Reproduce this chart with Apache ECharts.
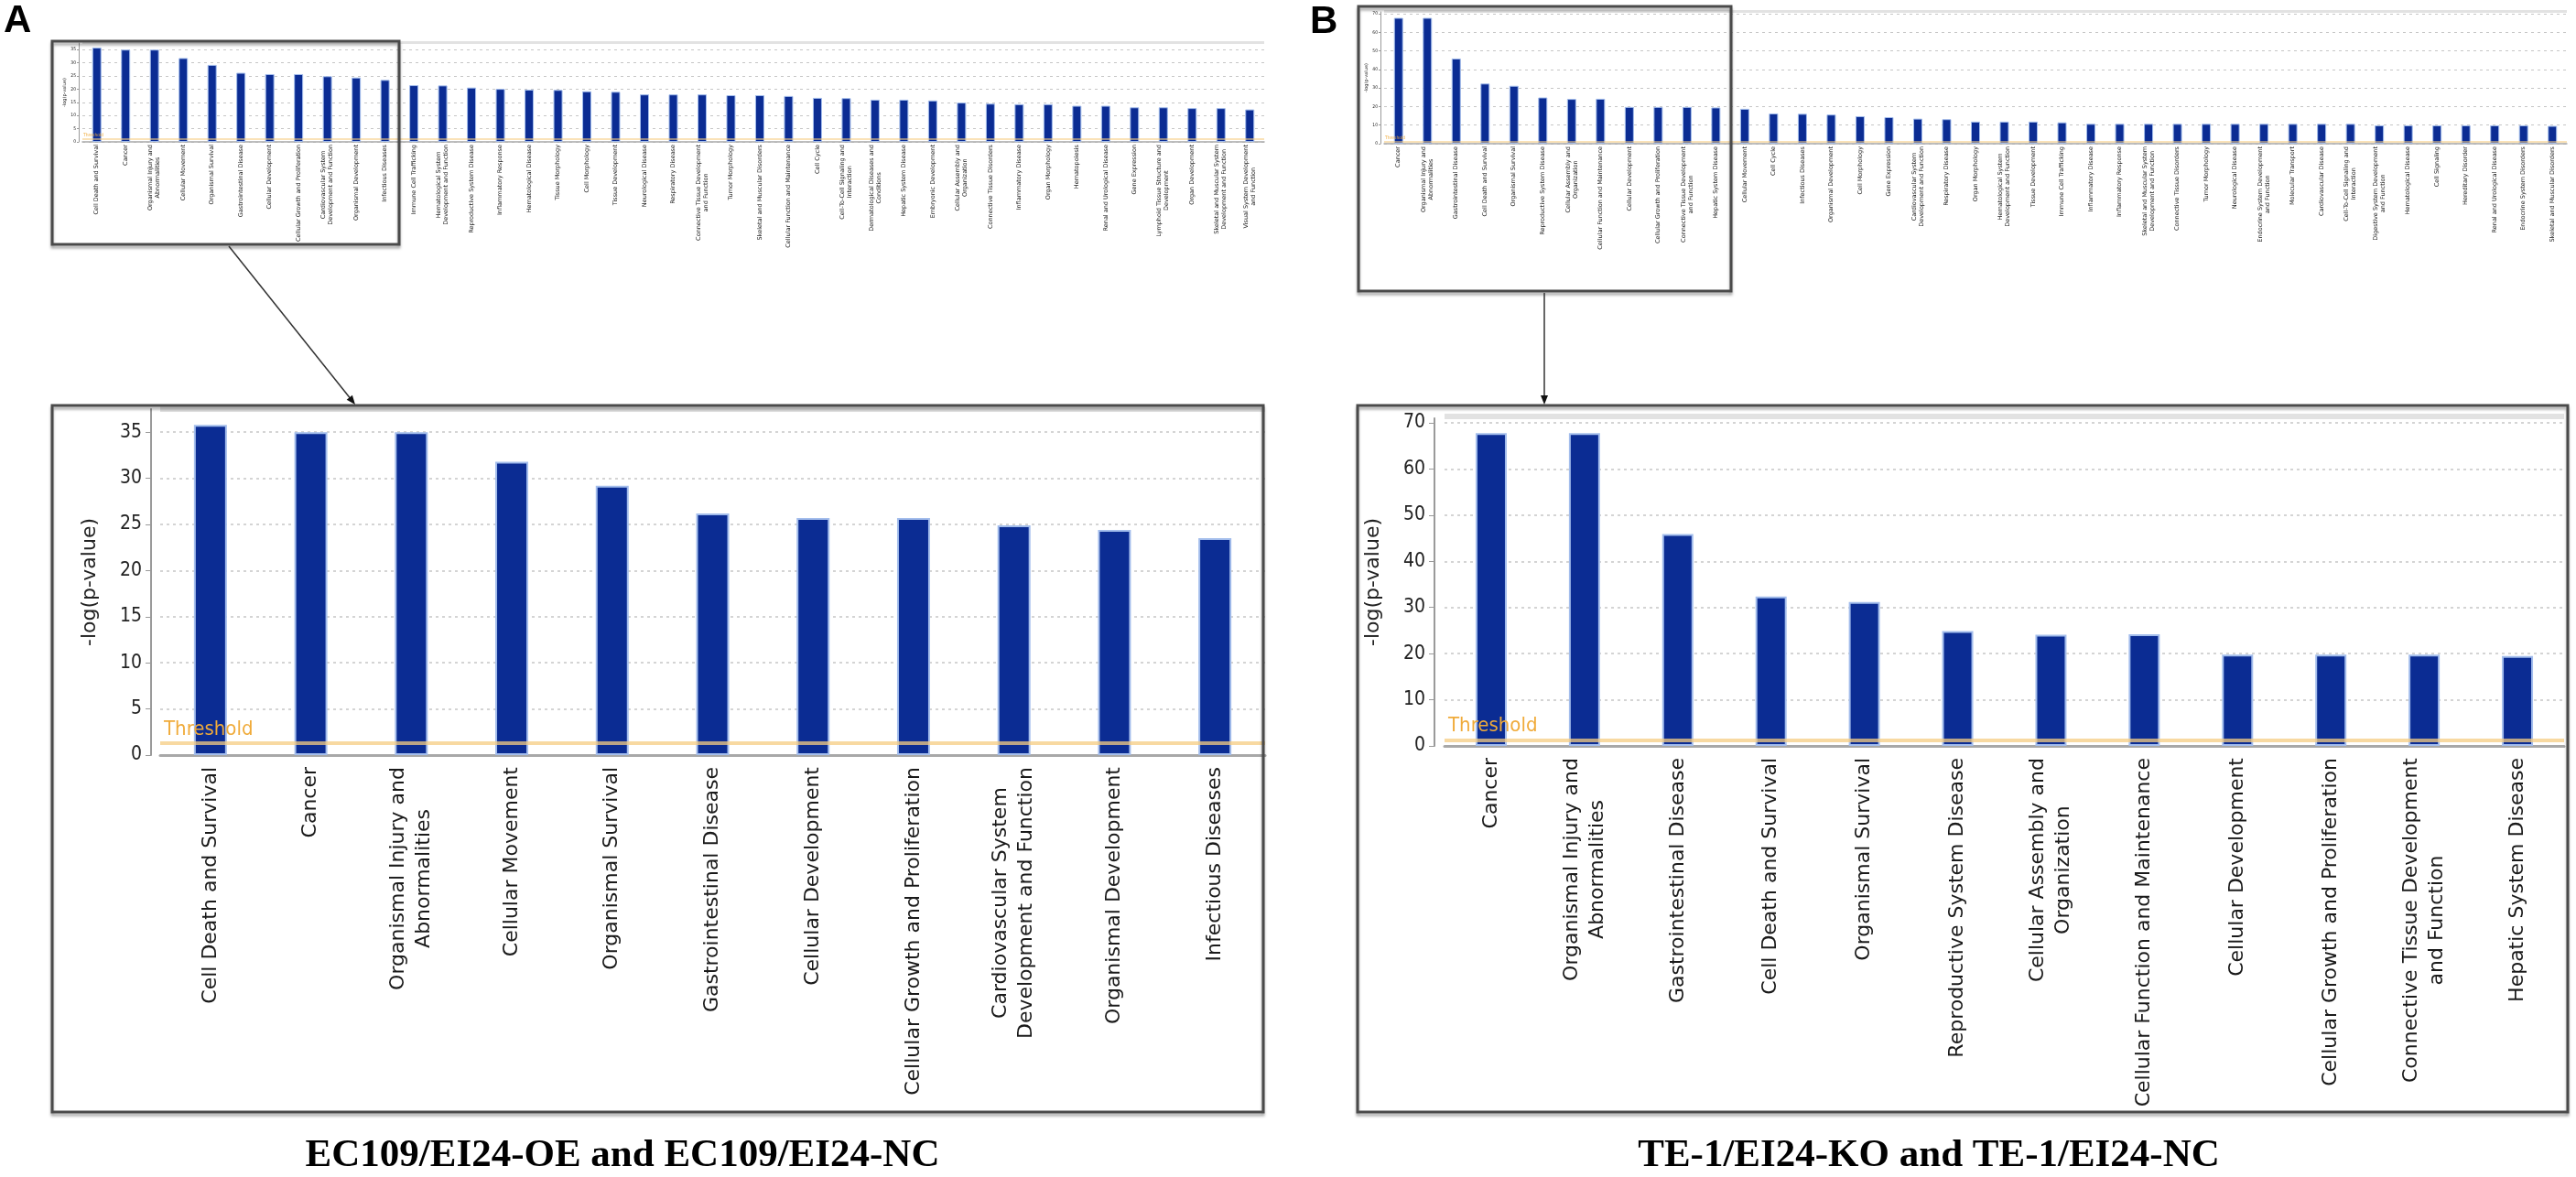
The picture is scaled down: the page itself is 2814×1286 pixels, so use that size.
<!DOCTYPE html>
<html>
<head>
<meta charset="utf-8">
<script src="https://cdn.jsdelivr.net/npm/echarts@6/dist/echarts.min.js"></script>
<style>
html, body { margin: 0; padding: 0; background: #fff; }
#chart { width: 2814px; height: 1286px; }
</style>
</head>
<body>
<div id="chart"></div>
<script>
// panel A: EC109/EI24-OE vs EC109/EI24-NC, first 11 categories are the zoomed chart
var catsA = ['Cell Death and Survival', 'Cancer', 'Organismal Injury and\nAbnormalities', 'Cellular Movement',
    'Organismal Survival', 'Gastrointestinal Disease', 'Cellular Development', 'Cellular Growth and Proliferation',
    'Cardiovascular System\nDevelopment and Function', 'Organismal Development', 'Infectious Diseases'];
var valsA = [35.8, 35.0, 35.0, 31.8, 29.2, 26.2, 25.7, 25.7, 24.9, 24.4, 23.5];
var moreCatsA = ['Immune Cell Trafficking', 'Hematological System\nDevelopment and Function', 'Reproductive System Disease',
    'Inflammatory Response', 'Hematological Disease', 'Tissue Morphology', 'Cell Morphology', 'Tissue Development',
    'Neurological Disease', 'Respiratory Disease', 'Connective Tissue Development\nand Function', 'Tumor Morphology',
    'Skeletal and Muscular Disorders', 'Cellular Function and Maintenance', 'Cell Cycle',
    'Cell-To-Cell Signaling and\nInteraction', 'Dermatological Diseases and\nConditions', 'Hepatic System Disease',
    'Embryonic Development', 'Cellular Assembly and\nOrganization', 'Connective Tissue Disorders', 'Inflammatory Disease',
    'Organ Morphology', 'Hematopoiesis', 'Renal and Urological Disease', 'Gene Expression',
    'Lymphoid Tissue Structure and\nDevelopment', 'Organ Development', 'Skeletal and Muscular System\nDevelopment and Function',
    'Visual System Development\nand Function'];
var moreValsA = [21.5, 21.4, 20.6, 20.1, 19.8, 19.7, 19.2, 19.0, 18.0, 18.0, 18.0, 17.7, 17.7, 17.4, 16.7,
    16.6, 16.0, 16.0, 15.7, 14.9, 14.5, 14.3, 14.3, 13.7, 13.7, 13.1, 13.1, 12.8, 12.8, 12.3];

// panel B: TE-1/EI24-KO vs TE-1/EI24-NC, first 12 categories are the zoomed chart
var catsB = ['Cancer', 'Organismal Injury and\nAbnormalities', 'Gastrointestinal Disease', 'Cell Death and Survival',
    'Organismal Survival', 'Reproductive System Disease', 'Cellular Assembly and\nOrganization',
    'Cellular Function and Maintenance', 'Cellular Development', 'Cellular Growth and Proliferation',
    'Connective Tissue Development\nand Function', 'Hepatic System Disease'];
var valsB = [67.8, 67.8, 45.9, 32.4, 31.2, 24.9, 24.1, 24.2, 19.8, 19.8, 19.8, 19.5];
var moreCatsB = ['Cellular Movement', 'Cell Cycle', 'Infectious Diseases', 'Organismal Development', 'Cell Morphology',
    'Gene Expression', 'Cardiovascular System\nDevelopment and Function', 'Respiratory Disease', 'Organ Morphology',
    'Hematological System\nDevelopment and Function', 'Tissue Development', 'Immune Cell Trafficking',
    'Inflammatory Disease', 'Inflammatory Response', 'Skeletal and Muscular System\nDevelopment and Function',
    'Connective Tissue Disorders', 'Tumor Morphology', 'Neurological Disease',
    'Endocrine System Development\nand Function', 'Molecular Transport', 'Cardiovascular Disease',
    'Cell-To-Cell Signaling and\nInteraction', 'Digestive System Development\nand Function', 'Hematological Disease',
    'Cell Signaling', 'Hereditary Disorder', 'Renal and Urological Disease', 'Endocrine System Disorders',
    'Skeletal and Muscular Disorders'];
var moreValsB = [18.8, 16.3, 16.1, 15.7, 14.8, 14.3, 13.5, 13.2, 11.9, 11.9, 11.9, 11.5, 10.7, 10.7, 10.7,
    10.7, 10.7, 10.7, 10.7, 10.7, 10.7, 10.7, 9.9, 9.9, 9.9, 9.9, 9.9, 9.9, 9.6];

var threshold = 1.3;   // -log(0.05)
var yMaxA = 37.5, stepA = 5;
var yMaxB = 71, stepB = 10;
var captionA = 'EC109/EI24-OE and EC109/EI24-NC';
var captionB = 'TE-1/EI24-KO and TE-1/EI24-NC';

var chart = echarts.init(document.getElementById('chart'));
var BAR = '#0b2c93', CAP = '#a3bdec', FONT = 'DejaVu Sans', NARROW = 'DejaVu Sans Condensed';

function richLines(v) {
    return v.split('\n').map(function (s) { return '{c|' + s + '}'; }).join('\n');
}

function xAxisOf(gi, cats, big) {
    var fs = big ? 22 : 6.5;
    return {
        gridIndex: gi, type: 'category', data: cats,
        axisLine: { lineStyle: { color: '#a8a8a8', width: big ? 3 : 1.5 } },
        axisTick: { show: false },
        axisLabel: {
            interval: 0, rotate: 90, margin: big ? 13 : 3, fontSize: fs, formatter: richLines,
            rich: { c: { align: 'center', fontSize: fs, lineHeight: big ? 28 : 8, fontFamily: FONT, color: '#1a1a1a' } }
        }
    };
}

function yAxisOf(gi, max, step, big, offset) {
    return {
        gridIndex: gi, type: 'value', min: 0, max: max, interval: step, offset: offset,
        name: '-log(p-value)', nameLocation: 'middle', nameRotate: 90, nameGap: big ? 56 : 11,
        nameTextStyle: { fontSize: big ? 22 : 5, fontFamily: FONT, color: '#222' },
        axisLine: { show: true, lineStyle: { color: '#9a9a9a', width: big ? 2 : 1 } },
        axisTick: { show: true, length: big ? 6 : 2, lineStyle: { color: '#9a9a9a' } },
        axisLabel: { showMaxLabel: false, fontSize: big ? 21 : 5, margin: big ? 10 : 3, fontFamily: NARROW, color: '#222' },
        splitLine: { show: true, lineStyle: { color: '#c6c6c6', type: [3, 4], width: big ? 1.5 : 1 } }
    };
}

function barsOf(i, vals, big, width) {
    return {
        type: 'bar', xAxisIndex: i, yAxisIndex: i, data: vals, barWidth: width,
        itemStyle: { color: BAR, borderColor: CAP, borderWidth: big ? 2 : 1 },
        markLine: {
            silent: true, symbol: 'none', animation: false,
            data: [{ yAxis: threshold }],
            lineStyle: { color: 'rgba(246,204,130,0.75)', width: big ? 4 : 1.5, type: 'solid' },
            label: {
                show: true, position: 'insideStartTop', formatter: 'Threshold', distance: big ? 4 : 1,
                color: '#f0ab3a', fontSize: big ? 22 : 5, fontFamily: NARROW
            }
        }
    };
}

var option = {
    animation: false,
    backgroundColor: '#fff',
    grid: [
        { left: 90, top: 47, width: 1291, height: 108 },     // overview A
        { left: 175, top: 447, width: 1207, height: 378 },   // zoomed A
        { left: 1512, top: 13, width: 1292, height: 144 },   // overview B
        { left: 1578, top: 457, width: 1223, height: 358 }   // zoomed B
    ],
    xAxis: [
        xAxisOf(0, catsA.concat(moreCatsA), false),
        xAxisOf(1, catsA, true),
        xAxisOf(2, catsB.concat(moreCatsB), false),
        xAxisOf(3, catsB, true)
    ],
    yAxis: [
        yAxisOf(0, yMaxA, stepA, false, 4),
        yAxisOf(1, yMaxA, stepA, true, 10),
        yAxisOf(2, yMaxB, stepB, false, 4),
        yAxisOf(3, yMaxB, stepB, true, 11)
    ],
    series: [
        barsOf(0, valsA.concat(moreValsA), false, 10),
        barsOf(1, valsA, true, 36),
        barsOf(2, valsB.concat(moreValsB), false, 10),
        barsOf(3, valsB, true, 34)
    ],
    graphic: [
        // grey bands along the top of each plot
        { type: 'rect', z: 50, shape: { x: 90, y: 45, width: 1291, height: 3 }, style: { fill: '#e2e2e2' } },
        { type: 'rect', z: 50, shape: { x: 175, y: 444, width: 1207, height: 6 }, style: { fill: '#e2e2e2' } },
        { type: 'rect', z: 50, shape: { x: 1512, y: 11, width: 1292, height: 3 }, style: { fill: '#e2e2e2' } },
        { type: 'rect', z: 50, shape: { x: 1578, y: 452, width: 1223, height: 6 }, style: { fill: '#e2e2e2' } },
        // frames
        { type: 'rect', z: 100, shape: { x: 57, y: 45, width: 379, height: 222 },
          style: { fill: 'none', stroke: '#4a4a4a', lineWidth: 3, shadowBlur: 3, shadowOffsetY: 3, shadowColor: 'rgba(0,0,0,0.35)' } },
        { type: 'rect', z: 100, shape: { x: 57, y: 443, width: 1323, height: 772 },
          style: { fill: 'none', stroke: '#4a4a4a', lineWidth: 3, shadowBlur: 3, shadowOffsetY: 3, shadowColor: 'rgba(0,0,0,0.35)' } },
        { type: 'rect', z: 100, shape: { x: 1484, y: 7, width: 407, height: 311 },
          style: { fill: 'none', stroke: '#4a4a4a', lineWidth: 3, shadowBlur: 3, shadowOffsetY: 3, shadowColor: 'rgba(0,0,0,0.35)' } },
        { type: 'rect', z: 100, shape: { x: 1483, y: 443, width: 1322, height: 772 },
          style: { fill: 'none', stroke: '#4a4a4a', lineWidth: 3, shadowBlur: 3, shadowOffsetY: 3, shadowColor: 'rgba(0,0,0,0.35)' } },
        // arrows
        { type: 'line', z: 100, shape: { x1: 250, y1: 269, x2: 384, y2: 437 }, style: { stroke: '#333', lineWidth: 1.5 } },
        { type: 'polygon', z: 100, shape: { points: [[388, 442], [378.7, 436.7], [384.9, 431.7]] }, style: { fill: '#111' } },
        { type: 'line', z: 100, shape: { x1: 1687, y1: 320, x2: 1687, y2: 436 }, style: { stroke: '#333', lineWidth: 1.5 } },
        { type: 'polygon', z: 100, shape: { points: [[1687, 442], [1683, 432], [1691, 432]] }, style: { fill: '#111' } },
        // panel letters and captions
        { type: 'text', z: 100, style: { x: 4, y: 23, text: 'A', font: 'bold 42px "Liberation Sans"', fill: '#000',
          align: 'left', textAlign: 'left', verticalAlign: 'middle', textVerticalAlign: 'middle' } },
        { type: 'text', z: 100, style: { x: 1431, y: 24, text: 'B', font: 'bold 42px "Liberation Sans"', fill: '#000',
          align: 'left', textAlign: 'left', verticalAlign: 'middle', textVerticalAlign: 'middle' } },
        { type: 'text', z: 100, style: { x: 680, y: 1263, text: captionA, font: 'bold 43px "Liberation Serif"', fill: '#000',
          align: 'center', textAlign: 'center', verticalAlign: 'middle', textVerticalAlign: 'middle' } },
        { type: 'text', z: 100, style: { x: 2107, y: 1263, text: captionB, font: 'bold 43px "Liberation Serif"', fill: '#000',
          align: 'center', textAlign: 'center', verticalAlign: 'middle', textVerticalAlign: 'middle' } }
    ]
};

chart.setOption(option);
</script>
</body>
</html>
